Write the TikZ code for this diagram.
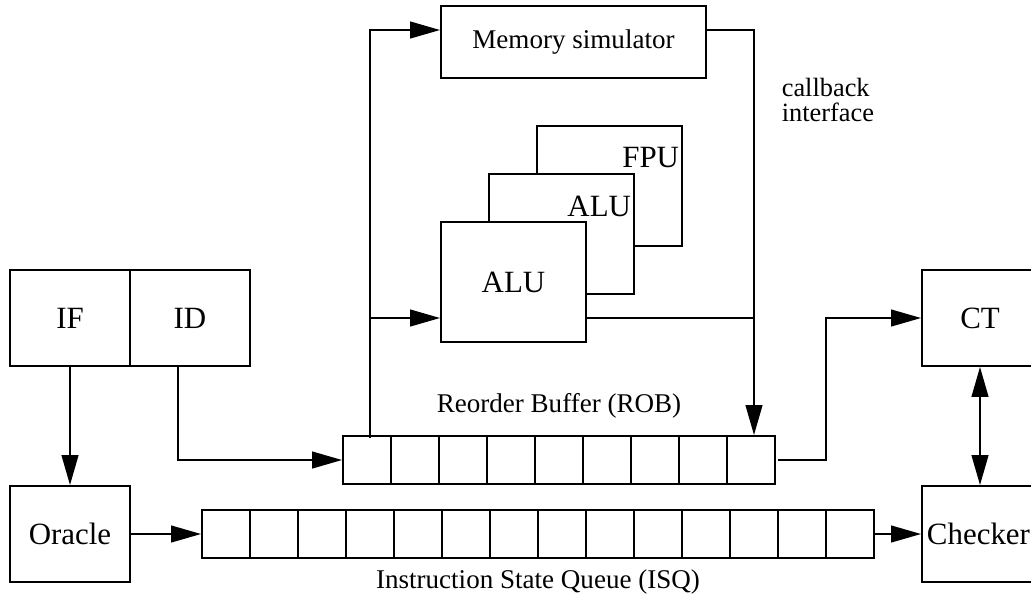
\documentclass[tikz,border=0pt]{standalone}
\usepackage{fontspec}
\setmainfont{Liberation Serif}
\usetikzlibrary{arrows.meta,calc}

\begin{document}
\begin{tikzpicture}[x=0.02cm,y=-0.02cm,line width=1.1pt]
\tikzstyle{box}=[draw,inner sep=0pt,font=\fontsize{17.6}{20}\selectfont]
\tikzstyle{unit}=[box,fill=white,minimum width=2.9cm,minimum height=2.4cm]
\tikzstyle{cell}=[draw,inner sep=0pt,minimum size=0.96cm]
\tikzstyle{arr}=[-{Triangle[length=17pt,width=9.5pt]}]
\tikzstyle{lbl}=[font=\fontsize{15.4}{18}\selectfont]

\useasboundingbox (0,0) rectangle (1031,606);

% front end
\node[box,minimum width=2.4cm,minimum height=1.92cm] (if) at (70,318) {IF};
\node[box,minimum width=2.4cm,minimum height=1.92cm] (id) at (190,318) {ID};
\node[box,minimum width=2.4cm,minimum height=1.92cm] (oracle) at (70,534) {Oracle};

% back end
\node[box,minimum width=2.32cm,minimum height=1.92cm] (ct) at (980,318) {CT};
\node[box,minimum width=2.32cm,minimum height=1.92cm] (checker) at (980,534) {};
\node[box,draw=none,anchor=west] (checkerlbl) at (926,534) {Checker};

% memory and functional units
\node[box,lbl,minimum width=5.3cm,minimum height=1.44cm] (mem) at (573.5,42) {Memory simulator};
\node[unit] (fpu) at (609.5,186) {};
\node[unit] (alu2) at (561.5,234) {};
\node[unit] (alu1) at (513.5,282) {ALU};
\node[box,draw=none,anchor=east] (fpulbl) at (680,158) {FPU};
\node[box,draw=none,anchor=east] (alu2lbl) at (632,206) {ALU};

% queues
\foreach \i in {1,...,9}
{
  \node[cell] (rob\i) at (319+48*\i,460) {};
}
\foreach \i in {1,...,14}
{
  \node[cell] (isq\i) at (178+48*\i,534) {};
}

\node[lbl] (roblbl) at (559,406) {Reorder Buffer (ROB)};
\node[lbl] (isqlbl) at (538,582) {Instruction State Queue (ISQ)};
\node[lbl,font=\fontsize{15}{14.7}\selectfont,align=left,anchor=west] (cblbl) at (775,100) {callback\\interface};

% connectors
\coordinate (busbot) at (370,438);
\coordinate (bustap) at (370,318);
\coordinate (cbtap) at (754,318);

\draw[arr] (if) -- (oracle);
\draw[arr] ([xshift=-0.24cm]id.south) |- (rob1.west);
\draw[arr] (oracle) -- (isq1);
\draw[arr] (isq14) -- (checker);
\draw[{Triangle[length=17pt,width=9.5pt]}-{Triangle[length=17pt,width=9.5pt]}] (ct) -- (checker);
\draw[arr] ([xshift=0.04cm]rob9.east) -- (826,460) |- (ct);
\draw[arr] (busbot) |- ([yshift=0.24cm]mem.west);
\draw[arr] (bustap) -- (bustap -| alu1.west);
\draw[arr] ([yshift=0.24cm]mem.east) -| ([xshift=0.06cm]rob9.north);
\draw (bustap -| alu1.east) -- (cbtap);

\end{tikzpicture}
\end{document}
